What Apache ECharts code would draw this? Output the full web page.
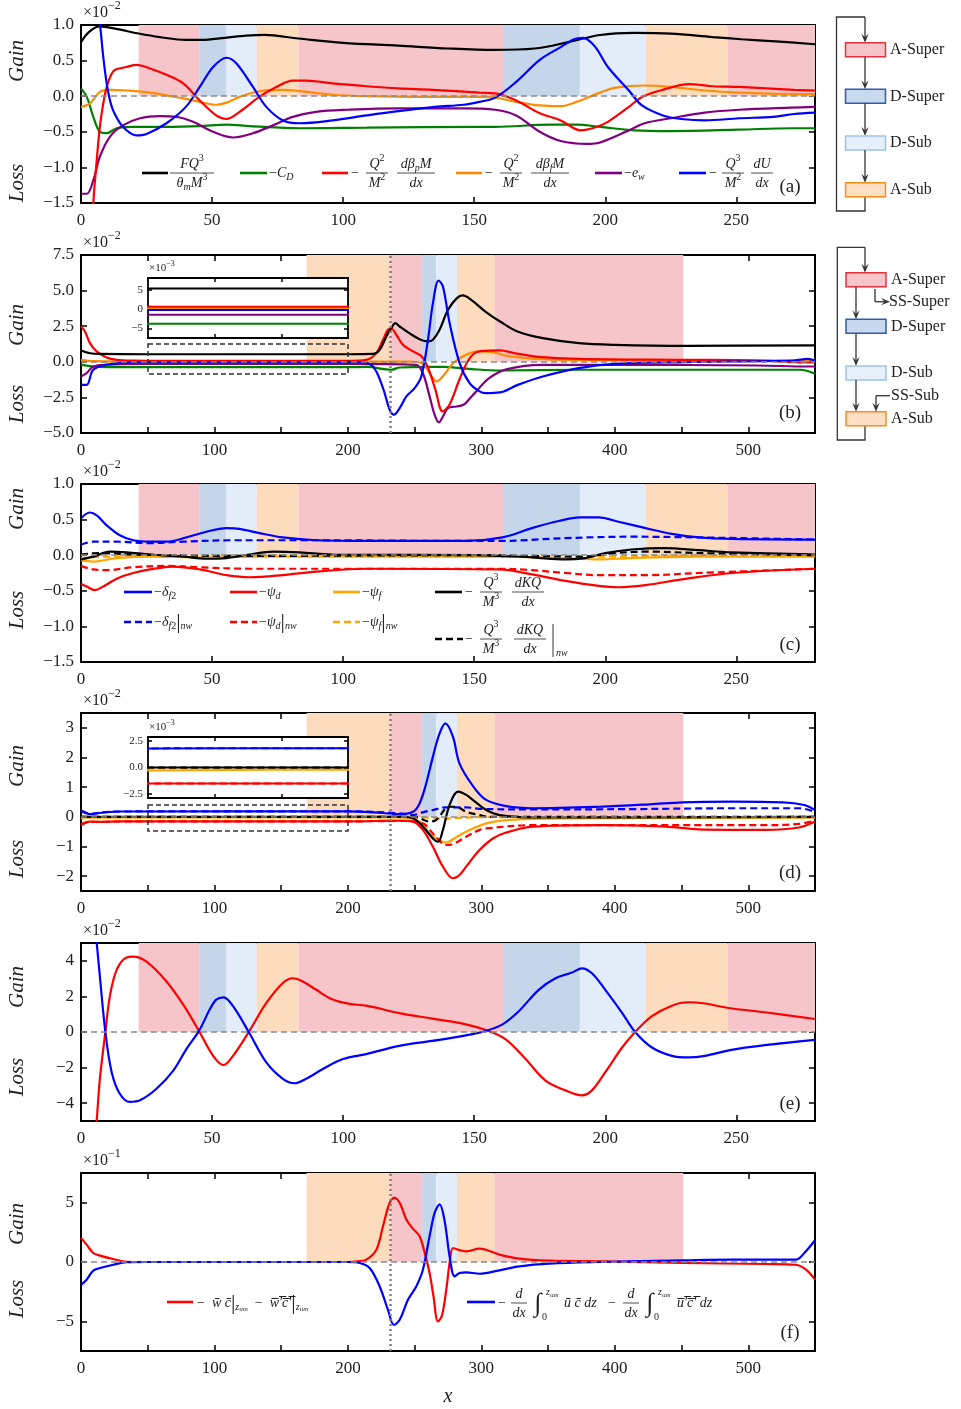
<!DOCTYPE html>
<html>
<head>
<meta charset="utf-8">
<script src="https://cdn.jsdelivr.net/npm/echarts@6/dist/echarts.min.js"></script>
<style>html,body{margin:0;background:#fff}#main{width:961px;height:1409px}</style>
</head>
<body>
<div id="main"></div>
<script>
var FONT = '"Liberation Serif","DejaVu Serif",serif';

// flow regions (x start, x end, regime)
var regA = [[22,45.3,'AS'],[45.3,55.3,'DS'],[55.3,67,'DB'],[67,83,'AB'],[83,161,'AS'],[161,190.3,'DS'],[190.3,215.4,'DB'],[215.4,246.7,'AB'],[246.7,280,'AS']];
var regB = [[169,232,'AB'],[232,255.7,'AS'],[255.7,266.3,'DS'],[266.3,281.7,'DB'],[281.7,310,'AB'],[310,451.3,'AS']];

// tick values
var xTicksA = [0,50,100,150,200,250];
var xTicksB = [0,50,100,150,200,250,300,350,400,450,500];
var xLabelsB = [0,100,200,300,400,500];

// ---- panel (a) ----
var aBlack = [[0,0.76],[3,0.90],[7,0.98],[13,0.95],[22,0.88],[30,0.83],[40,0.79],[46,0.79],[55,0.82],[63,0.85],[70,0.86],[83,0.81],[100,0.75],[121,0.71],[140,0.67],[158,0.65],[173,0.67],[186,0.76],[198,0.86],[211,0.89],[225,0.88],[241,0.83],[252,0.80],[265,0.77],[280,0.73]];
var aBlue = [[5,1.6],[6.2,1.2],[7.3,0.98],[8.5,0.55],[9.8,0.18],[11,-0.05],[12.5,-0.22],[16,-0.43],[21,-0.55],[25,-0.53],[32.6,-0.38],[40,-0.15],[45.3,0.13],[50.4,0.41],[55.5,0.54],[59.3,0.46],[65.6,0.13],[70.7,-0.15],[77,-0.34],[83.4,-0.38],[96,-0.34],[109,-0.27],[121,-0.21],[135,-0.15],[146,-0.12],[152,-0.08],[158,-0.02],[166,0.20],[175,0.51],[183,0.69],[188,0.80],[191.5,0.82],[196,0.70],[201,0.41],[209,0.08],[214,-0.13],[222,-0.27],[229,-0.32],[238,-0.34],[251,-0.31],[264,-0.29],[272,-0.25],[280,-0.23]];
var aRed = [[3.5,-2.4],[4.7,-1.5],[6,-0.9],[7.2,-0.43],[8.5,-0.1],[9.8,0.13],[11.5,0.3],[13,0.37],[17.4,0.41],[21.2,0.44],[26.3,0.39],[32.6,0.30],[39,0.18],[45.3,-0.06],[51.6,-0.27],[55.5,-0.32],[60.5,-0.22],[68,-0.01],[74.5,0.13],[80.8,0.22],[86,0.22],[96,0.18],[109,0.14],[121,0.11],[134,0.09],[152,0.05],[158,0.04],[166,-0.06],[175,-0.24],[183,-0.34],[190.6,-0.48],[196,-0.44],[201,-0.36],[209,-0.15],[214,-0.01],[221,0.08],[232,0.17],[241,0.14],[251,0.13],[272,0.09],[280,0.08]];
var aOrange = [[0,-0.15],[3.4,-0.10],[7.2,0.06],[11,0.09],[17.4,0.08],[26.3,0.05],[39,-0.03],[45.3,-0.08],[51.6,-0.12],[55.5,-0.09],[60.5,-0.01],[68,0.07],[77,0.09],[83.4,0.07],[96,0.02],[109,0.0],[130,-0.01],[152,-0.01],[158,-0.02],[166,-0.08],[175,-0.13],[183,-0.14],[189,-0.08],[198,0.05],[204,0.12],[215,0.15],[225,0.13],[238,0.08],[251,0.05],[271,0.03],[280,0.03]];
var aPurple = [[0,-1.37],[2.2,-1.37],[4.7,-1.18],[7.2,-0.85],[11,-0.57],[16,-0.41],[22.5,-0.31],[30,-0.28],[36.4,-0.29],[42.8,-0.36],[50.4,-0.50],[58,-0.58],[65.6,-0.52],[73.2,-0.41],[80.8,-0.29],[89.7,-0.22],[102,-0.19],[121,-0.17],[146,-0.17],[158,-0.19],[166,-0.27],[175,-0.50],[183,-0.63],[193,-0.67],[198,-0.65],[209,-0.48],[215,-0.38],[225,-0.31],[238,-0.23],[251,-0.19],[271,-0.16],[280,-0.15]];
var aGreen = [[0,0.11],[2.2,-0.01],[4.7,-0.29],[7.2,-0.50],[9.8,-0.52],[13.6,-0.45],[20,-0.43],[32.6,-0.43],[45.3,-0.42],[55.5,-0.40],[64.4,-0.42],[83.4,-0.45],[109,-0.44],[152,-0.43],[158,-0.43],[179,-0.40],[189,-0.40],[198,-0.43],[211,-0.48],[225,-0.49],[251,-0.47],[271,-0.45],[280,-0.45]];

// ---- panel (b) ----
var bBlack = [[0,0.80],[3,0.70],[6.7,0.60],[14,0.55],[50,0.53],[150,0.53],[200,0.53],[218.8,0.55],[223.8,0.84],[228.8,1.78],[232.5,2.36],[235.5,2.72],[238.8,2.48],[246,2.01],[253.7,1.59],[260,1.43],[263.7,1.55],[268.7,2.25],[275,3.65],[281.7,4.47],[286,4.66],[292.4,4.35],[303,3.53],[314,2.83],[327,2.13],[346,1.66],[373,1.31],[400,1.19],[453,1.12],[550,1.16]];
var bRed = [[0,2.48],[3,2.13],[6.7,1.31],[11.7,0.73],[19.2,0.30],[26.7,0.14],[40,0.08],[60,0.06],[200,0.06],[213.8,0.14],[221.3,0.61],[226.3,1.55],[230,2.25],[232.5,2.32],[236.3,1.9],[241.3,1.19],[248.8,0.73],[255,0.40],[260,-0.4],[265.6,-1.97],[271,-3.49],[276.2,-3.0],[283.5,-1.26],[289.7,0.02],[295,0.61],[303,0.77],[314,0.80],[324.6,0.61],[340.7,0.37],[373,0.21],[453,0.14],[507,0.09],[542,-0.05],[550,-0.05]];
var bOrange = [[0,0.14],[10,0.05],[50,0.01],[200,0.01],[245,0.02],[254.9,-0.09],[262.9,-1.03],[266.4,-1.38],[271,-1.03],[279,-0.09],[287,0.42],[297.7,0.73],[308.5,0.68],[319.3,0.42],[340.7,0.21],[373,0.14],[550,0.09]];
var bBlue = [[0,-1.62],[4.2,-1.62],[9.2,-0.56],[19.2,-0.21],[39,-0.02],[50,-0.025],[200,-0.025],[208.8,-0.02],[218.8,-0.33],[226.3,-1.85],[231.3,-3.37],[234.5,-3.72],[238.8,-3.25],[243.8,-2.43],[250,-1.85],[255,-1.03],[260,1.55],[263.7,4.12],[268,5.71],[271.2,5.29],[276.2,2.72],[283.7,-0.09],[291.2,-1.5],[298.7,-2.08],[303.2,-2.2],[313.9,-2.15],[327.3,-1.62],[346,-1.03],[373,-0.44],[400,-0.14],[453,-0.02],[534,0.09],[544.6,0.21],[550,0.07]];
var bPurple = [[0,-1.03],[4.2,-0.8],[9.2,-0.33],[19.2,-0.2],[50,-0.15],[200,-0.15],[251,-0.21],[256.2,-0.8],[261.2,-2.43],[265,-3.72],[268.2,-4.26],[271.2,-3.84],[275,-3.25],[281.2,-3.14],[287,-3.0],[292,-2.5],[295,-2.2],[305.8,-1.15],[319.3,-0.51],[346,-0.21],[400,-0.21],[507,-0.26],[545,-0.33],[550,-0.33]];
var bGreen = [[0,-0.21],[14,-0.35],[50,-0.38],[200,-0.38],[213.8,-0.36],[232.5,-0.56],[238.8,-0.40],[260,-0.36],[271,-0.36],[292.4,-0.51],[313.9,-0.61],[373,-0.56],[507,-0.56],[539,-0.56],[550,-0.84]];

// ---- panel (c) ----
var cBlue = [[0,0.52],[3.4,0.60],[6,0.56],[9.8,0.42],[14.8,0.28],[19.9,0.21],[26.3,0.19],[32.6,0.19],[40.2,0.25],[47.8,0.33],[55.5,0.38],[60.5,0.37],[68.1,0.31],[77,0.25],[89.7,0.21],[108.8,0.20],[146.7,0.20],[160.8,0.25],[172,0.38],[182.2,0.48],[190.3,0.53],[197.5,0.53],[205,0.47],[215.4,0.38],[225.4,0.30],[235.6,0.25],[248.3,0.23],[280,0.22]];
var cBlueNw = [[0,0.15],[4.7,0.19],[13.6,0.19],[26.3,0.17],[39,0.19],[58,0.21],[83.4,0.21],[152,0.20],[159.4,0.20],[184.8,0.24],[210,0.26],[235.6,0.25],[280,0.22]];
var cRed = [[0,-0.40],[2.2,-0.44],[5.3,-0.49],[8.5,-0.44],[13.6,-0.33],[19.9,-0.25],[26.3,-0.20],[35,-0.16],[45.3,-0.20],[55.5,-0.28],[64.4,-0.31],[77,-0.28],[89.7,-0.23],[108.8,-0.19],[159.4,-0.20],[172,-0.27],[184.8,-0.36],[197.5,-0.43],[205,-0.45],[215.3,-0.42],[229.2,-0.34],[248.3,-0.25],[280,-0.19]];
var cRedNw = [[0,-0.15],[4.7,-0.20],[9.8,-0.21],[19.9,-0.17],[32.6,-0.15],[45.3,-0.17],[64.4,-0.19],[96,-0.19],[160,-0.19],[172,-0.21],[184.8,-0.25],[197.5,-0.28],[216.6,-0.28],[235.6,-0.25],[280,-0.19]];
var cOrange = [[0,-0.07],[4.7,-0.09],[13.6,-0.04],[26.3,-0.02],[45.3,-0.03],[70.7,-0.02],[160,-0.02],[184.8,-0.04],[197.5,-0.06],[210,-0.04],[235.6,-0.02],[280,-0.02]];
var cOrangeNw = [[0,-0.04],[10,-0.02],[60,-0.01],[150,-0.01],[200,-0.02],[230,-0.01],[280,-0.01]];
var cBlack = [[0,-0.06],[4.7,-0.02],[11,0.05],[17.4,0.04],[26.3,0.01],[39,-0.02],[47.8,-0.05],[55.5,-0.04],[64.4,0.01],[73.2,0.05],[83.4,0.04],[96,0.01],[152,0],[159.4,-0.01],[172,-0.03],[184.8,-0.06],[192.3,-0.04],[200,0.03],[210,0.08],[222.8,0.10],[235.6,0.07],[248.3,0.04],[280,0.01]];
var cBlackNw = [[0,0.01],[7.2,0.03],[19.9,0.01],[58,-0.01],[150,0],[172,-0.01],[191,-0.02],[203.6,0.03],[216.6,0.05],[235.6,0.03],[280,0]];

// ---- panel (d) ----
var dBlue = [[0,0.21],[3,0.15],[6.7,0.09],[14,0.13],[30,0.18],[200,0.184],[226,0.13],[238.8,0.09],[248.8,0.17],[253.7,0.45],[258.7,1.13],[263.7,2.03],[268.7,2.81],[273,3.15],[278.7,2.7],[283.6,1.8],[293.5,1.05],[303.6,0.57],[318.6,0.36],[338.6,0.29],[388.5,0.34],[426,0.42],[451,0.49],[488,0.51],[526,0.49],[542,0.40],[550,0.23]];
var dBlueNw = [[0,0.2],[6.7,0.1],[14,0.14],[30,0.18],[200,0.184],[238,0.12],[248.8,0.06],[256,0.15],[263.7,0.23],[273.5,0.32],[288.6,0.32],[298.7,0.27],[338.6,0.25],[413,0.26],[488,0.29],[538,0.29],[550,0.17]];
var dRed = [[0,-0.28],[6.7,-0.16],[14,-0.17],[30,-0.152],[200,-0.152],[238.8,-0.13],[248.8,-0.16],[256.2,-0.44],[263.7,-1.01],[271.2,-1.68],[278.7,-2.07],[283.7,-1.96],[288.6,-1.68],[298.6,-1.12],[308.6,-0.73],[318.6,-0.53],[338.6,-0.33],[388.5,-0.28],[438,-0.33],[463,-0.42],[513,-0.44],[538,-0.36],[550,-0.16]];
var dRedNw = [[0,-0.25],[6.7,-0.16],[14,-0.17],[30,-0.152],[200,-0.152],[240,-0.14],[256.2,-0.22],[263.7,-0.56],[273.5,-0.95],[278,-0.93],[283,-0.82],[288.6,-0.67],[298.7,-0.44],[303.6,-0.39],[338.6,-0.28],[513,-0.28],[538,-0.24],[550,-0.13]];
var dOrange = [[0,-0.03],[240,-0.02],[253.7,-0.16],[261.2,-0.56],[268.7,-0.78],[273.5,-0.87],[280,-0.72],[288.6,-0.50],[303.6,-0.22],[318.6,-0.11],[363.5,-0.05],[550,-0.03]];
var dOrangeNw = [[0,-0.01],[240,-0.01],[260,-0.03],[270,-0.06],[285,-0.03],[300,-0.01],[550,-0.01]];
var dBlack = [[0,0],[240,0],[248.8,-0.05],[256.2,-0.33],[263.7,-0.73],[267.5,-0.84],[271.2,-0.44],[276.2,0.40],[282.5,0.85],[288.7,0.74],[293.6,0.57],[303.6,0.23],[313.6,0.06],[338.6,-0.02],[550,0]];
var dBlackNw = [[0,0],[250,0],[261.2,-0.16],[266.2,-0.10],[273.5,0.29],[277,0.34],[281.2,0.34],[288.6,0.17],[298.7,0.06],[305,0],[550,0]];

// ---- panel (e) ----
var eRed = [[5,-6.5],[6,-4.95],[7.2,-2.63],[9.3,0],[11,2.0],[13.6,3.49],[17.4,4.19],[19.9,4.23],[25,3.95],[32.6,2.84],[39,1.54],[45,0.06],[50.4,-1.34],[54.4,-1.86],[58,-1.34],[64,0],[70.7,1.63],[77,2.75],[80.8,3.02],[84.6,2.84],[89.7,2.37],[96,1.82],[102.4,1.58],[108.8,1.48],[121.4,1.06],[134,0.75],[146.8,0.43],[154.4,0.11],[162,-0.41],[169.6,-1.52],[177.2,-2.73],[184.8,-3.28],[191.1,-3.56],[194.9,-3.28],[200,-2.26],[206.4,-0.87],[211.4,0],[217.8,0.89],[225.4,1.48],[231.7,1.67],[238,1.60],[246.9,1.35],[260.8,1.11],[280,0.73]];
var eBlue = [[5,6.5],[6,5],[7.2,3.12],[9.3,0],[11.7,-2.26],[14.8,-3.47],[18.7,-3.93],[22.5,-3.84],[28.8,-3.19],[35.2,-2.17],[40.2,-0.96],[45,0.06],[49.1,1.26],[51.6,1.82],[54.4,1.95],[58,1.45],[64,0],[70.7,-1.71],[77,-2.63],[81.5,-2.88],[85.9,-2.63],[92.3,-2.08],[99.9,-1.52],[108.8,-1.24],[121.4,-0.78],[134,-0.5],[146.8,-0.19],[154.4,0.06],[160.8,0.43],[167,1.17],[174.6,2.37],[181,3.02],[187.3,3.34],[191.1,3.58],[194.9,3.30],[200,2.37],[206.4,1.08],[211.4,0],[217.8,-0.87],[225.4,-1.34],[231.7,-1.43],[238,-1.34],[248.1,-1.0],[260.8,-0.74],[280,-0.44]];

// ---- panel (f) ----
var fRed = [[0,2.03],[4.2,1.46],[9.2,0.76],[14.2,0.54],[24.2,0.25],[34.2,0.02],[50,0],[200,0],[207,0.05],[213.8,0.2],[221.3,1.04],[226.3,3.01],[231.3,4.99],[235,5.41],[238.8,4.99],[243.8,3.58],[248,2.9],[253.7,2.17],[257,1.0],[261.2,-0.93],[264,-2.8],[267.5,-5.01],[270.5,-4.5],[273.7,-2.34],[276.2,-0.08],[278.7,1.18],[282.5,1.04],[288.6,0.9],[298.6,1.13],[313.6,0.62],[328.6,0.28],[351,0.11],[388.5,0.06],[451,-0.08],[513,-0.17],[535.8,-0.23],[543.3,-0.65],[550,-1.49]];
var fBlue = [[0,-1.92],[4.2,-1.49],[9.2,-0.73],[14.2,-0.51],[24.2,-0.23],[34.2,-0.02],[50,0],[200,0],[208.8,-0.08],[216.3,-0.51],[223.8,-2.06],[230,-4.03],[234.5,-5.3],[238.8,-4.87],[245,-3.18],[251.2,-2.06],[256.2,-0.65],[261.2,2.17],[265,4.14],[268.7,4.85],[272.5,3.44],[276.2,0.48],[280,-1.21],[283.7,-0.93],[288.7,-0.87],[298.7,-0.99],[313.6,-0.70],[328.6,-0.37],[351,-0.14],[388.5,0],[451,0.14],[488,0.2],[535.8,0.2],[542,0.76],[550,1.83]];

var SHADE = {AS:'#f5c5c9', DS:'#c5d6eb', DB:'#e3edf9', AB:'#fddcbd'};
var tops = [25,255,484,713,943,1173];
var panels = [
  {xmax:280, xt:xTicksA, xl:xTicksA, ymin:-1.5, ymax:1, yt:[-1.5,-1,-0.5,0,0.5,1], dec:1, reg:regA},
  {xmax:550, xt:xTicksB, xl:xLabelsB, ymin:-5, ymax:7.5, yt:[-5,-2.5,0,2.5,5,7.5], dec:1, reg:regB, vline:232},
  {xmax:280, xt:xTicksA, xl:xTicksA, ymin:-1.5, ymax:1, yt:[-1.5,-1,-0.5,0,0.5,1], dec:1, reg:regA},
  {xmax:550, xt:xTicksB, xl:xLabelsB, ymin:-2.5, ymax:3.5, yt:[-2,-1,0,1,2,3], dec:0, reg:regB, vline:232},
  {xmax:280, xt:xTicksA, xl:xTicksA, ymin:-5, ymax:5, yt:[-4,-2,0,2,4], dec:0, reg:regA},
  {xmax:550, xt:xTicksB, xl:xLabelsB, ymin:-7.5, ymax:7.5, yt:[-5,0,5], dec:0, reg:regB, vline:232}
];
var insets = [
  {left:148, top:278, height:60, xmin:50, xmax:200, ymin:-0.75, ymax:0.8, yt:[-0.5,0,0.5], dec:0},
  {left:148, top:737, height:61, xmin:50, xmax:200, ymin:-0.29, ymax:0.29, yt:[-0.25,0,0.25], dec:1}
];

function minus(s) { return String(s).replace('-', '\u2212'); }

var grids = [], xAxes = [], yAxes = [], series = [];
function addAxes(g, p, inset) {
  var lw = inset ? 1.8 : 2, fs = inset ? 11 : 17, z = inset ? 6 : 0;
  ['bottom','top'].forEach(function (pos, k) {
    xAxes.push({type:'value', gridIndex:g, position:pos, min:p.xmin || 0, max:p.xmax, z:z,
      axisLine:{show:true, onZero:false, lineStyle:{color:'#000', width:lw}},
      axisTick:{show:true, inside:true, length:inset ? 4 : 6, lineStyle:{color:'#000', width:1.5}, customValues:p.xt},
      axisLabel:{show:k === 0 && !inset, customValues:p.xl, color:'#222', fontFamily:FONT, fontSize:fs, margin:9},
      splitLine:{show:false}});
  });
  ['left','right'].forEach(function (pos, k) {
    yAxes.push({type:'value', gridIndex:g, position:pos, min:p.ymin, max:p.ymax, z:z,
      axisLine:{show:true, onZero:false, lineStyle:{color:'#000', width:lw}},
      axisTick:{show:true, inside:true, length:inset ? 4 : 6, lineStyle:{color:'#000', width:1.5}, customValues:p.yt},
      axisLabel:{show:k === 0, customValues:p.yt, color:'#222', fontFamily:FONT, fontSize:fs, margin:inset ? 5 : 7,
        formatter:function (v) {
          if (inset) v = v * 10;
          return minus(p.dec ? v.toFixed(1) : String(Math.round(v)));
        }},
      splitLine:{show:false}});
  });
}

panels.forEach(function (p, g) {
  grids.push({left:81, top:tops[g], width:734, height:178});
  addAxes(g, p, false);
  var ml = [{yAxis:0, lineStyle:{color:'#8a8a8a', type:[6,4], width:1.5}}];
  if (p.vline) ml.push({xAxis:p.vline, lineStyle:{color:'#808080', type:[2,3], width:2.5}});
  series.push({type:'line', xAxisIndex:2 * g, yAxisIndex:2 * g, data:[[0,0]], z:1, silent:true,
    showSymbol:false, lineStyle:{opacity:0},
    markArea:{silent:true, itemStyle:{opacity:1},
      data:p.reg.map(function (r) { return [{xAxis:r[0], yAxis:0, itemStyle:{color:SHADE[r[2]], opacity:1}}, {xAxis:r[1], yAxis:p.ymax}]; })},
    markLine:{silent:true, symbol:['none','none'], label:{show:false}, data:ml}});
});
insets.forEach(function (p, k) {
  var g = 6 + k;
  p.xt = [100,150]; p.xl = [];
  grids.push({left:p.left, top:p.top, width:200, height:p.height, show:true, backgroundColor:'#fff', borderWidth:0, z:5});
  addAxes(g, p, true);
});

function line(g, data, color, dashed) {
  series.push({type:'line', xAxisIndex:2 * g, yAxisIndex:2 * g, data:data, showSymbol:false, smooth:0.35,
    silent:true, z:g >= 6 ? 7 : 3,
    lineStyle:{color:color, width:g >= 6 ? 2 : 2.2, type:dashed ? [7,4] : 'solid'}});
}
var ORG = '#ff8c00', ORG2 = '#ffa500';
line(0, aGreen, '#008000'); line(0, aOrange, ORG); line(0, aPurple, '#800080');
line(0, aRed, '#ff0000'); line(0, aBlack, '#000'); line(0, aBlue, '#0000ff');
[1, 6].forEach(function (g) {
  line(g, bGreen, '#008000'); line(g, bPurple, '#800080'); line(g, bOrange, ORG);
  line(g, bRed, '#ff0000'); line(g, bBlack, '#000'); line(g, bBlue, '#0000ff');
});
line(2, cOrangeNw, ORG2, true); line(2, cOrange, ORG2); line(2, cBlackNw, '#000', true); line(2, cBlack, '#000');
line(2, cRedNw, '#ff0000', true); line(2, cRed, '#ff0000'); line(2, cBlueNw, '#0000ff', true); line(2, cBlue, '#0000ff');
[3, 7].forEach(function (g) {
  line(g, dOrangeNw, ORG2, true); line(g, dOrange, ORG2); line(g, dRedNw, '#ff0000', true); line(g, dRed, '#ff0000');
  line(g, dBlueNw, '#0000ff', true); line(g, dBlue, '#0000ff'); line(g, dBlackNw, '#000', true); line(g, dBlack, '#000');
});
line(4, eRed, '#ff0000'); line(4, eBlue, '#0000ff');
line(5, fRed, '#ff0000'); line(5, fBlue, '#0000ff');

// ---- decorations: legends, labels, flow diagrams ----
var G = [];
function RS(fs) {
  var s = Math.round(fs * 0.72), lh = Math.round(fs * 1.2);
  function st(size, it, pad) {
    var o = {fontFamily:FONT, fontSize:size, fontStyle:it ? 'italic' : 'normal', fill:'#222', lineHeight:lh, verticalAlign:'middle'};
    if (pad) o.padding = pad;
    return o;
  }
  return {i:st(fs, 1), r:st(fs, 0),
    sp:st(s, 0, [0,0,Math.round(fs * 0.85),0]),
    sb:st(s, 1, [Math.round(fs * 0.55),0,0,0]),
    sbr:st(s, 0, [Math.round(fs * 0.55),0,0,0]),
    ss:st(Math.round(fs * 0.5), 1, [Math.round(fs * 0.9),0,0,0]),
    bar:st(Math.round(fs * 1.6), 0)};
}
function rt(x, y, text, fs, align) {
  G.push({type:'text', x:x, y:y, z:100, silent:true,
    style:{text:text, rich:RS(fs || 14), align:align || 'left', verticalAlign:'middle', fontFamily:FONT, fontSize:fs || 14, fill:'#222'}});
}
function seg(x1, x2, y, color, dashed) {
  G.push({type:'line', z:100, silent:true, shape:{x1:x1, y1:y, x2:x2, y2:y}, style:{stroke:color, lineWidth:2.6, lineDash:dashed ? [7,4] : null}});
}
function frac(cx, cy, num, den, w, fs) {
  fs = fs || 14;
  rt(cx, cy - fs * 0.62, num, fs, 'center');
  G.push({type:'line', z:100, silent:true, shape:{x1:cx - w / 2, y1:cy, x2:cx + w / 2, y2:cy}, style:{stroke:'#222', lineWidth:0.8}});
  rt(cx, cy + fs * 0.72, den, fs, 'center');
}
function vbar(x, y1, y2) {
  G.push({type:'line', z:100, silent:true, shape:{x1:x, y1:y1, x2:x, y2:y2}, style:{stroke:'#222', lineWidth:0.9}});
}

// panel (a) legend
seg(142, 168, 173, '#000'); frac(192, 173, '{i|FQ}{sp|3}', '{i|θ}{sb|m}{i|M}{sp|3}', 44);
seg(240, 267, 173, '#008000'); rt(269, 173, '{r|−}{i|C}{sb|D}');
seg(322, 348, 173, '#ff0000'); rt(351, 173, '{r|−}'); frac(377, 173, '{i|Q}{sp|2}', '{i|M}{sp|2}', 22); frac(416, 173, '{i|dβ}{sb|p}{i|M}', '{i|dx}', 38);
seg(456, 482, 173, ORG); rt(485, 173, '{r|−}'); frac(511, 173, '{i|Q}{sp|2}', '{i|M}{sp|2}', 22); frac(550, 173, '{i|dβ}{sb|f}{i|M}', '{i|dx}', 38);
seg(595, 622, 173, '#800080'); rt(624, 173, '{r|−}{i|e}{sb|w}');
seg(679, 706, 173, '#0000ff'); rt(709, 173, '{r|−}'); frac(733, 173, '{i|Q}{sp|3}', '{i|M}{sp|2}', 22); frac(762, 173, '{i|dU}', '{i|dx}', 22);

// panel (c) legend
seg(124, 152, 592, '#0000ff'); rt(154, 592, '{r|−}{i|δ}{sb|f}{sbr|2}');
seg(230, 257, 592, '#ff0000'); rt(259, 592, '{r|−}{i|ψ}{sb|d}');
seg(333, 360, 592, ORG2); rt(362, 592, '{r|−}{i|ψ}{sb|f}');
seg(435, 462, 592, '#000'); rt(465, 592, '{r|−}'); frac(491, 592, '{i|Q}{sp|3}', '{i|M}{sp|3}', 22); frac(528, 592, '{i|dKQ}', '{i|dx}', 32);
seg(124, 152, 622, '#0000ff', true); rt(154, 622, '{r|−}{i|δ}{sb|f}{sbr|2}{bar||}{sb|nw}');
seg(230, 257, 622, '#ff0000', true); rt(259, 622, '{r|−}{i|ψ}{sb|d}{bar||}{sb|nw}');
seg(333, 360, 622, ORG2, true); rt(362, 622, '{r|−}{i|ψ}{sb|f}{bar||}{sb|nw}');
seg(435, 463, 639, '#000', true); rt(465, 639, '{r|−}'); frac(491, 639, '{i|Q}{sp|3}', '{i|M}{sp|3}', 22); frac(530, 639, '{i|dKQ}', '{i|dx}', 32);
vbar(553, 624, 657); rt(556, 653, '{i|nw}', 10);

// panel (f) legend
seg(167, 193, 1302, '#ff0000');
rt(197, 1303, '{r|−  }{i|w\u0304 c\u0304}{bar||}{sb|z}{ss|um}{r|  −  }{i|w\u0305\u2032\u0305c\u0305\u2032\u0305}{bar||}{sb|z}{ss|um}');
seg(467, 495, 1302, '#0000ff'); rt(498, 1303, '{r|−}');
[[519, 538], [631, 650]].forEach(function (q) {
  frac(q[0], 1303, '{i|d}', '{i|dx}', 16);
  rt(q[1], 1304, '{r|∫}', 26, 'center');
  rt(q[1] + 8, 1292, '{i|z}{sb|um}', 10);
  rt(q[1] + 4, 1317, '{r|0}', 10);
});
rt(564, 1303, '{i|u\u0304 c\u0304 dz}'); rt(608, 1303, '{r|−}');
rt(677, 1303, '{i|u\u0305\u2032\u0305c\u0305\u2032\u0305 dz}');

// exponent labels, panel letters, axis titles
tops.forEach(function (t, g) {
  rt(83, t - 12, g === 5 ? '{r|×10}{sp|−1}' : '{r|×10}{sp|−2}', 16);
});
rt(149, 268, '{r|×10}{sp|−3}', 11); rt(149, 727, '{r|×10}{sp|−3}', 11);
[['(a)',187],['(b)',413],['(c)',645],['(d)',873],['(e)',1104],['(f)',1333]].forEach(function (l) {
  rt(790, l[1], '{r|' + l[0] + '}', 19, 'center');
});
[[61,183],[325,404],[509,610],[766,859],[987,1077],[1224,1299]].forEach(function (c) {
  G.push({type:'text', x:17, y:c[0], rotation:Math.PI / 2, z:100, style:{text:'Gain', fontFamily:FONT, fontStyle:'italic', fontSize:21, fill:'#222', align:'center', verticalAlign:'middle'}});
  G.push({type:'text', x:17, y:c[1], rotation:Math.PI / 2, z:100, style:{text:'Loss', fontFamily:FONT, fontStyle:'italic', fontSize:21, fill:'#222', align:'center', verticalAlign:'middle'}});
});
rt(448, 1397, '{i|x}', 20, 'center');

// zoom boxes for insets
G.push({type:'rect', z:50, shape:{x:148, y:344, width:200, height:30}, style:{fill:null, stroke:'#333', lineWidth:1.5, lineDash:[5,3]}});
G.push({type:'rect', z:50, shape:{x:148, y:805, width:200, height:26}, style:{fill:null, stroke:'#333', lineWidth:1.5, lineDash:[5,3]}});

// flow diagrams
var BOX = {AS:['#f5c5c9','#e8303e'], DS:['#c9d9ee','#2a5fae'], DB:['#e6f0fb','#9cc3ef'], AB:['#fde0c4','#ff8c1a']};
function box(x, y, k) { G.push({type:'rect', z:100, shape:{x:x, y:y, width:40, height:14}, style:{fill:BOX[k][0], stroke:BOX[k][1], lineWidth:1.5}}); }
function pl(pts) { G.push({type:'polyline', z:100, shape:{points:pts}, style:{stroke:'#333', lineWidth:1.3, fill:null}}); }
function arrow(x1, y1, x2, y2) {
  var a = Math.atan2(y2 - y1, x2 - x1), L = 9, W = 3.6;
  var bx = x2 - L * Math.cos(a), by = y2 - L * Math.sin(a);
  var nx = x2 - 0.6 * L * Math.cos(a), ny = y2 - 0.6 * L * Math.sin(a);
  var px = -Math.sin(a) * W, py = Math.cos(a) * W;
  pl([[x1, y1], [nx, ny]]);
  G.push({type:'polygon', z:100, shape:{points:[[x2, y2], [bx + px, by + py], [nx, ny], [bx - px, by - py]]}, style:{fill:'#333'}});
}
function lab(x, y, t) { G.push({type:'text', x:x, y:y, z:100, style:{text:t, fontFamily:FONT, fontSize:16, fill:'#222', align:'left', verticalAlign:'middle'}}); }

pl([[865,17],[836.5,17],[836.5,211],[865,211],[865,196.7]]);
arrow(865, 17, 865, 42.7);
box(845.5, 42.7, 'AS'); arrow(865, 56.7, 865, 89.3);
box(845.5, 89.3, 'DS'); arrow(865, 103.3, 865, 136);
box(845.5, 136, 'DB'); arrow(865, 150, 865, 182.7);
box(845.5, 182.7, 'AB');
lab(890, 50, 'A-Super'); lab(890, 96.3, 'D-Super'); lab(890, 143, 'D-Sub'); lab(890, 189.7, 'A-Sub');

pl([[865,247.3],[837.3,247.3],[837.3,440],[865,440],[865,426]]);
arrow(865, 247.3, 865, 272.7);
box(846, 272.7, 'AS'); arrow(856, 286.7, 856, 319.3);
box(846, 319.3, 'DS'); arrow(856, 333.3, 856, 366);
box(846, 366, 'DB'); arrow(856, 380, 856, 411.7);
box(846, 411.7, 'AB');
pl([[875,289],[875,301.7]]); arrow(875, 301.7, 890, 301.7);
pl([[890,395.7],[876,395.7]]); arrow(876, 395.7, 876, 411.7);
lab(891, 280, 'A-Super'); lab(889, 302, 'SS-Super'); lab(891, 326.3, 'D-Super');
lab(891, 373, 'D-Sub'); lab(891, 395.7, 'SS-Sub'); lab(891, 418.8, 'A-Sub');

var chart = echarts.init(document.getElementById('main'), null, {renderer:'canvas'});
chart.setOption({
  animation:false,
  backgroundColor:'#fff',
  grid:grids,
  xAxis:xAxes,
  yAxis:yAxes,
  series:series,
  graphic:{elements:G}
});
</script>
</body>
</html>
